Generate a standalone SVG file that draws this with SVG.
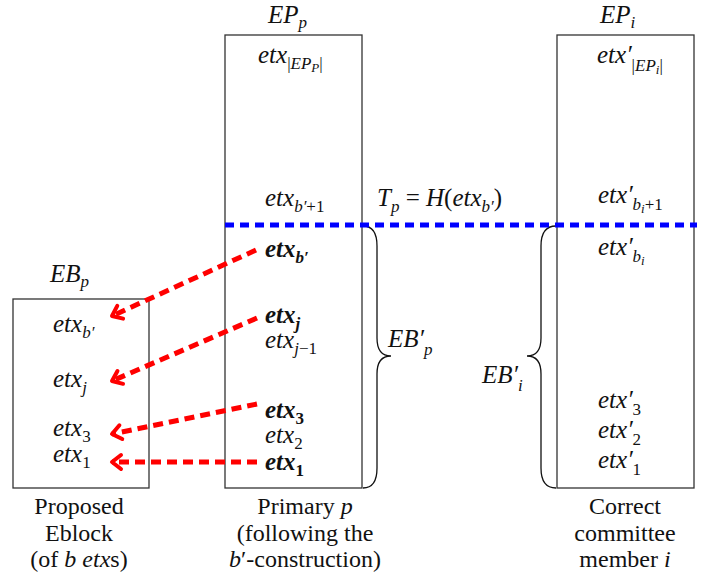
<svg xmlns="http://www.w3.org/2000/svg" width="713" height="581" viewBox="0 0 713 581">
<defs>
<style>
.box{fill:none;stroke:#333;stroke-width:1.3}
.m{font-style:italic;font-size:25px;fill:#111}
.b{font-weight:bold}
.s{font-size:17px}
.ss{font-size:13px}
.up{font-style:normal}
.cap{font-size:24px;fill:#111;text-anchor:middle}
.red{fill:none;stroke:#ff0000;stroke-width:5;stroke-dasharray:10 6}
.blue{fill:none;stroke:#0000ff;stroke-width:5;stroke-dasharray:9 6}
.brace{fill:none;stroke:#111;stroke-width:1.3}
</style>
<marker id="ah" markerUnits="userSpaceOnUse" markerWidth="20" markerHeight="20" viewBox="0 0 20 20" refX="15" refY="10" orient="auto">
<path d="M6,3 L15,10 L6,17" fill="none" stroke="#ff0000" stroke-width="4" stroke-linecap="round" stroke-linejoin="round"/>
</marker>
</defs>
<g font-family="'Liberation Serif', 'Tinos', 'Times New Roman', 'DejaVu Serif', serif">

<g id="EPp">
<rect class="box" x="225" y="35" width="137" height="453"/>
<text class="m" x="268" y="23">EP<tspan class="s" dy="5">p</tspan></text>
<text class="m" x="258" y="63">etx<tspan class="s up" dy="6">|</tspan><tspan class="s">EP</tspan><tspan class="ss" dy="3">P</tspan><tspan class="s up" dy="-3">|</tspan></text>
<text class="m" x="265" y="206">etx<tspan class="s" dy="6">b′</tspan><tspan class="s up">+1</tspan></text>
<text class="m b" x="265" y="257">etx<tspan class="s" dy="6">b′</tspan></text>
<text class="m b" x="265" y="323">etx<tspan class="s" dy="6">j</tspan></text>
<text class="m" x="265" y="348">etx<tspan class="s" dy="6">j</tspan><tspan class="s up">−1</tspan></text>
<text class="m b" x="265" y="418">etx<tspan class="s up" dy="6">3</tspan></text>
<text class="m" x="265" y="443">etx<tspan class="s up" dy="6">2</tspan></text>
<text class="m b" x="265" y="470">etx<tspan class="s up" dy="6">1</tspan></text>
</g>

<g id="EPi">
<rect class="box" x="557" y="35" width="137" height="453"/>
<text class="m" x="600" y="23">EP<tspan class="s" dy="5">i</tspan></text>
<text class="m" x="597" y="63">etx′<tspan class="s up" dy="8">|</tspan><tspan class="s">EP</tspan><tspan class="ss" dy="3">i</tspan><tspan class="s up" dy="-3">|</tspan></text>
<text class="m" x="598" y="203">etx′<tspan class="s" dy="7">b</tspan><tspan class="ss" dy="3">i</tspan><tspan class="s up" dy="-3">+1</tspan></text>
<text class="m" x="598" y="255">etx′<tspan class="s" dy="7">b</tspan><tspan class="ss" dy="3">i</tspan></text>
<text class="m" x="598" y="408">etx′<tspan class="s up" dy="7">3</tspan></text>
<text class="m" x="598" y="438">etx′<tspan class="s up" dy="7">2</tspan></text>
<text class="m" x="598" y="468">etx′<tspan class="s up" dy="7">1</tspan></text>
</g>

<g id="EBp">
<rect class="box" x="13" y="299" width="136" height="189"/>
<text class="m" x="50" y="282">EB<tspan class="s" dy="5">p</tspan></text>
<text class="m" x="53" y="332">etx<tspan class="s" dy="6">b′</tspan></text>
<text class="m" x="53" y="387">etx<tspan class="s" dy="6">j</tspan></text>
<text class="m" x="53" y="436">etx<tspan class="s up" dy="6">3</tspan></text>
<text class="m" x="53" y="462">etx<tspan class="s up" dy="6">1</tspan></text>
</g>

<g id="Tp">
<text class="m" x="377" y="206">T<tspan class="s" dy="6">p</tspan><tspan class="up" dy="-6"> = </tspan>H<tspan class="up">(</tspan>etx<tspan class="s" dy="6">b′</tspan><tspan class="up" dy="-6">)</tspan></text>
</g>

<g id="braceP">
<path class="brace" d="M363,226 Q377,226 377,246 L377,338 Q377,356 391,356 Q377,356 377,374 L377,468 Q377,488 363,488"/>
<text class="m" x="388" y="347">EB′<tspan class="s" dy="8">p</tspan></text>
</g>

<g id="braceI">
<path class="brace" d="M556,226 Q541,226 541,246 L541,338 Q541,356 527,356 Q541,356 541,374 L541,468 Q541,488 556,488"/>
<text class="m" x="482" y="383">EB′<tspan class="s" dy="8">i</tspan></text>
</g>

<g id="captions">
<text class="cap" x="79" y="514">Proposed</text>
<text class="cap" x="79" y="541">Eblock</text>
<text class="cap" x="79" y="567">(of <tspan font-style="italic">b etx</tspan>s)</text>
<text class="cap" x="305" y="514">Primary <tspan font-style="italic">p</tspan></text>
<text class="cap" x="305" y="541">(following the</text>
<text class="cap" x="305" y="567"><tspan font-style="italic">b</tspan>′-construction)</text>
<text class="cap" x="625" y="514">Correct</text>
<text class="cap" x="625" y="541">committee</text>
<text class="cap" x="625" y="567">member <tspan font-style="italic">i</tspan></text>
</g>

<g id="connectors">
<line class="blue" x1="225" y1="225" x2="697" y2="225"/>
<line class="red" x1="256" y1="250" x2="112" y2="316" marker-end="url(#ah)"/>
<line class="red" x1="257" y1="318" x2="112" y2="381" marker-end="url(#ah)"/>
<line class="red" x1="257" y1="404" x2="112" y2="434" marker-end="url(#ah)"/>
<line class="red" x1="257" y1="462" x2="112" y2="462" marker-end="url(#ah)"/>
</g>
</g>
</svg>
